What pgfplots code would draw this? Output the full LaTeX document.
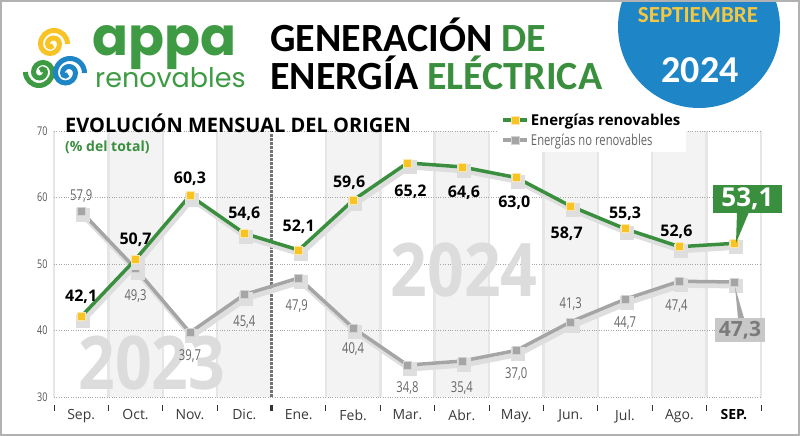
\documentclass[border=0pt]{standalone}
\usepackage{pgfplots}
\pgfplotsset{compat=1.18}
\usepackage{fontspec}
\setmainfont{Open Sans}
\newfontfamily\calfont{Carlito}
\newfontfamily\osc[FakeStretch=0.75]{Open Sans}
\newfontfamily\wmfont[FakeStretch=0.87]{Open Sans}
\newfontfamily\popfont{Poppins}
\definecolor{grn}{HTML}{3A8F3E}
\definecolor{logogrn}{HTML}{3E9B43}
\definecolor{ylw}{HTML}{F7C325}
\definecolor{sylw}{HTML}{F2C744}
\definecolor{gln}{HTML}{A5A5A5}
\definecolor{shd}{HTML}{DEDEDE}
\definecolor{blu}{HTML}{1E85C7}
\definecolor{band}{HTML}{F3F3F3}
\definecolor{bline}{HTML}{E6E6E6}
\definecolor{wm}{HTML}{DCDCDC}
\definecolor{xlab}{HTML}{3A3A3A}
\definecolor{ylab}{HTML}{555555}
\definecolor{glab}{HTML}{666666}
\definecolor{gbox}{HTML}{C8C8C8}
\definecolor{gboxt}{HTML}{7B7B7B}
\begin{document}
\begin{tikzpicture}[x=1pt,y=1pt]
\useasboundingbox (0,0) rectangle (800,436);
% blue circle
\begin{scope}
\clip (0,0) rectangle (800,436);
\fill[blu] (699,409) circle (81);
\end{scope}
\node[anchor=base, text=sylw, font=\calfont\bfseries\fontsize{23}{23}\selectfont, inner sep=0] at (698,413) {SEPTIEMBRE};
\node[anchor=base, text=white, font=\calfont\bfseries\fontsize{38}{38}\selectfont, inner sep=0] at (700,353) {2024};
% title
\node[anchor=base west, inner sep=0, font=\calfont\bfseries\fontsize{40}{40}\selectfont] at (270,384) {GENERACIÓN \textcolor{grn}{DE}};
\node[anchor=base west, inner sep=0, font=\calfont\bfseries\fontsize{40}{40}\selectfont] at (270,346) {ENERGÍA \textcolor{grn}{ELÉCTRICA}};
% logo
\node[anchor=base west, inner sep=0, text=logogrn, font=\popfont\bfseries\fontsize{53}{53}\selectfont] at (92,380) {appa};
\node[anchor=base west, inner sep=0, text=logogrn, font=\popfont\fontsize{27}{27}\selectfont] at (95,348) {renovables};
\draw[line width=5, color=ylw] (54,392) ++(13.5,0) arc[start angle=0,end angle=180,radius=13.5] arc[start angle=180,end angle=360,radius=9.5] arc[start angle=0,end angle=180,radius=6] arc[start angle=180,end angle=330,radius=3];
\draw[line width=5, color=logogrn] (39,364) ++(-13.5,0) arc[start angle=180,end angle=360,radius=13.5] arc[start angle=0,end angle=180,radius=9.5] arc[start angle=180,end angle=360,radius=6] arc[start angle=0,end angle=150,radius=3];
\draw[line width=5, color=blu] (70,363) ++(14.5,0) arc[start angle=0,end angle=180,radius=14.5] arc[start angle=180,end angle=360,radius=10] arc[start angle=0,end angle=180,radius=6.5] arc[start angle=180,end angle=330,radius=3];
% chart
\begin{axis}[
  at={(54pt,39pt)}, anchor=south west,
  scale only axis, width=707pt, height=266pt,
  xmin=-0.5, xmax=12.5, ymin=30, ymax=70,
  axis line style={draw=none},
  major tick style={draw=none},
  xtick={0,...,12},
  xticklabels={Sep.,Oct.,Nov.,Dic.,Ene.,Feb.,Mar.,Abr.,May.,Jun.,Jul.,Ago.,{\color{black}\bfseries SEP.}},
  xticklabel style={font=\fontsize{14}{14}\selectfont, text=xlab, yshift=-9pt},
  ytick={30,40,50,60,70},
  yticklabel style={font=\osc\fontsize{12}{12}\selectfont, text=ylab, xshift=-3pt},
  /pgf/number format/assume math mode=true,
  clip=false,
  reverse legend,
  legend style={at={(0.627,1.085)}, anchor=north west, draw=none, fill=white, inner xsep=4pt, inner ysep=3pt, row sep=3pt, font=\fontsize{15}{15}\selectfont},
  legend cell align=left,
  legend image code/.code={\draw[#1, mark repeat=2, mark phase=2] plot coordinates {(0pt,0pt) (12pt,0pt) (24pt,0pt)};},
]
% bands
\fill[band] (axis cs:0.5,30) rectangle (axis cs:1.5,70);
\fill[band] (axis cs:2.5,30) rectangle (axis cs:3.5,70);
\fill[band] (axis cs:4.5,30) rectangle (axis cs:5.5,70);
\fill[band] (axis cs:6.5,30) rectangle (axis cs:7.5,70);
\fill[band] (axis cs:8.5,30) rectangle (axis cs:9.5,70);
\fill[band] (axis cs:10.5,30) rectangle (axis cs:11.5,70);
\pgfplotsinvokeforeach{-0.5,0.5,1.5,2.5,4.5,5.5,6.5,7.5,8.5,9.5,10.5,11.5,12.5}{
  \draw[bline, line width=2.5] (axis cs:#1,30) -- (axis cs:#1,70);
  \draw[black!80, line width=1] (axis cs:#1,30) ++(0pt,-8pt) -- ++(0pt,-6pt);
}
\draw[black!80, line width=2.5] (axis cs:3.5,30) ++(0pt,-8pt) -- ++(0pt,-6pt);
\pgfplotsinvokeforeach{30,40,50,60,70}{
  \draw[gray!70, line width=0.8, dash pattern=on 0.8pt off 1.6pt] (axis cs:-0.5,#1) -- (axis cs:12.5,#1);
}
% watermarks
\node[text=wm, font=\wmfont\bfseries\fontsize{74}{74}\selectfont, inner sep=0] at (axis cs:1.30,35.1) {2023};
\node[text=wm, font=\wmfont\bfseries\fontsize{74}{74}\selectfont, inner sep=0] at (axis cs:7.04,49.1) {2024};
% divider
\draw[black!55, line width=3, dash pattern=on 2.5pt off 1.5pt] (axis cs:3.5,30) -- (axis cs:3.5,69.5);
% non-renewables
\addplot[forget plot, shd, line width=5, xshift=2pt, yshift=-4pt, mark=square*, mark size=4.5, mark options={fill=shd, draw=shd}] coordinates {
(0,57.9) (1,49.3) (2,39.7) (3,45.4) (4,47.9) (5,40.4) (6,34.8) (7,35.4) (8,37.0) (9,41.3) (10,44.7) (11,47.4) (12,47.3)};
\addplot[gln, line width=3.5, mark=square*, mark size=4, mark options={fill=gln, draw=white!50!gln, line width=0.6}] coordinates {
(0,57.9) (1,49.3) (2,39.7) (3,45.4) (4,47.9) (5,40.4) (6,34.8) (7,35.4) (8,37.0) (9,41.3) (10,44.7) (11,47.4) (12,47.3)};
\addlegendentry{\osc\textcolor{glab}{Energías no renovables}}
% renewables
\addplot[forget plot, shd, line width=5, xshift=2pt, yshift=-4pt, mark=square*, mark size=4.5, mark options={fill=shd, draw=shd}] coordinates {
(0,42.1) (1,50.7) (2,60.3) (3,54.6) (4,52.1) (5,59.6) (6,65.2) (7,64.6) (8,63.0) (9,58.7) (10,55.3) (11,52.6) (12,53.1)};
\addplot[grn, line width=3.5, mark=square*, mark size=4, mark options={fill=ylw, draw=white!60!ylw, line width=0.6}] coordinates {
(0,42.1) (1,50.7) (2,60.3) (3,54.6) (4,52.1) (5,59.6) (6,65.2) (7,64.6) (8,63.0) (9,58.7) (10,55.3) (11,52.6) (12,53.1)};
\addlegendentry{\bfseries Energías renovables}
% labels renewables
\begin{scope}[every node/.style={font=\bfseries\fontsize{16}{16}\selectfont, inner sep=0}]
\node[yshift=20pt] at (axis cs:0,42.1) {42,1};
\node[yshift=20pt] at (axis cs:1,50.7) {50,7};
\node[yshift=17pt] at (axis cs:2,60.3) {60,3};
\node[yshift=20pt] at (axis cs:3,54.6) {54,6};
\node[yshift=23pt] at (axis cs:4,52.1) {52,1};
\node[yshift=17pt, xshift=-4pt] at (axis cs:5,59.6) {59,6};
\node[yshift=-29pt, xshift=3pt] at (axis cs:6,65.2) {65,2};
\node[yshift=-26pt, xshift=2pt] at (axis cs:7,64.6) {64,6};
\node[yshift=-25pt, xshift=-2pt] at (axis cs:8,63.0) {63,0};
\node[yshift=-28pt, xshift=-4pt] at (axis cs:9,58.7) {58,7};
\node[yshift=15pt] at (axis cs:10,55.3) {55,3};
\node[yshift=15pt, xshift=-3pt] at (axis cs:11,52.6) {52,6};
\end{scope}
% labels non-renewables
\begin{scope}[every node/.style={font=\osc\fontsize{15}{15}\selectfont, text=glab, inner sep=0}]
\node[yshift=15pt] at (axis cs:0,57.9) {57,9};
\node[yshift=-27pt] at (axis cs:1,49.3) {49,3};
\node[yshift=-24pt] at (axis cs:2,39.7) {39,7};
\node[yshift=-27pt] at (axis cs:3,45.4) {45,4};
\node[yshift=-28pt, xshift=-2pt] at (axis cs:4,47.9) {47,9};
\node[yshift=-21pt] at (axis cs:5,40.4) {40,4};
\node[yshift=-23pt] at (axis cs:6,34.8) {34,8};
\node[yshift=-27pt] at (axis cs:7,35.4) {35,4};
\node[yshift=-24pt] at (axis cs:8,37.0) {37,0};
\node[yshift=18pt] at (axis cs:9,41.3) {41,3};
\node[yshift=-24pt] at (axis cs:10,44.7) {44,7};
\node[yshift=-25pt, xshift=-3pt] at (axis cs:11,47.4) {47,4};
\end{scope}
\end{axis}
% callouts
\fill[grn] (737,224) -- (749,224) -- (736,193) -- cycle;
\fill[grn] (713,223) rectangle (782,251);
\node[text=white, font=\bfseries\fontsize{26}{26}\selectfont, inner sep=0] at (747.5,237) {53,1};
\fill[gln] (738,118) -- (744,118) -- (735,149) -- cycle;
\fill[gbox] (715,94) rectangle (765,118);
\node[text=gboxt, font=\bfseries\fontsize{21}{21}\selectfont, inner sep=0] at (740,106) {47,3};
% section titles
\node[anchor=base west, inner sep=0, font=\bfseries\fontsize{20}{20}\selectfont] at (65,303) {EVOLUCIÓN MENSUAL DEL ORIGEN};
\node[anchor=base west, inner sep=0, text=grn, font=\bfseries\fontsize{14}{14}\selectfont] at (65,284) {(\% del total)};
% frame
\draw[gray!60, line width=2] (1,1) rectangle (799,435);
\end{tikzpicture}
\end{document}
